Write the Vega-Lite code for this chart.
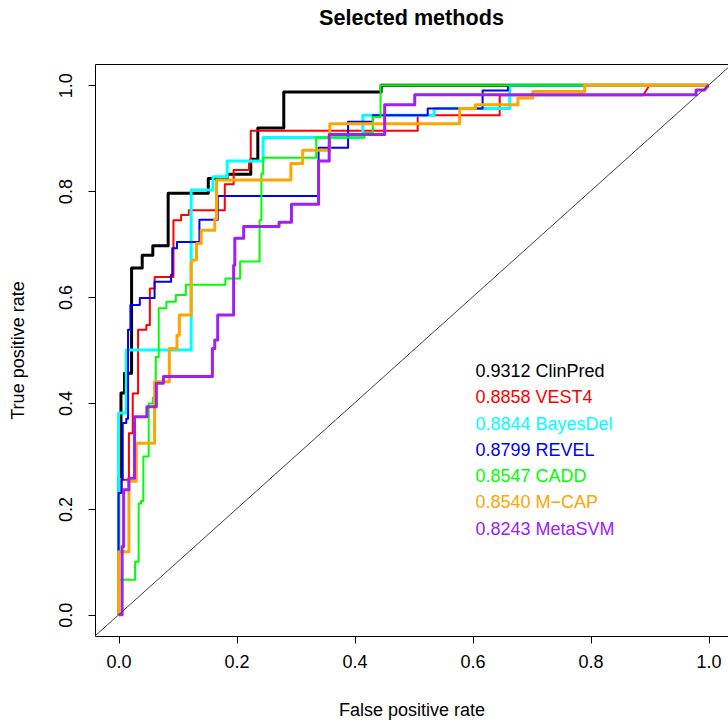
{
  "$schema": "https://vega.github.io/schema/vega-lite/v6.json",
  "width": 633,
  "height": 572,
  "autosize": {"type": "none"},
  "padding": {"left": 95, "top": 64, "right": 0, "bottom": 86},
  "background": "white",
  "title": {"text": "Selected methods", "fontSize": 21.6, "fontWeight": "bold", "font": "Liberation Sans", "color": "black", "anchor": "middle", "offset": 34},
  "config": {
    "view": {"stroke": null},
    "font": "Liberation Sans",
    "axis": {"grid": false, "domainColor": "black", "tickColor": "black", "labelColor": "black", "titleColor": "black", "labelFont": "Liberation Sans", "titleFont": "Liberation Sans", "labelFontSize": 18, "titleFontSize": 18, "titleFontWeight": "normal", "tickSize": 7, "domainWidth": 1, "tickWidth": 1}
  },
  "datasets": {
    "curves": [
      {"m":"ClinPred","i":0,"fpr":0,"tpr":0},{"m":"ClinPred","i":1,"fpr":0,"tpr":0.26},{"m":"ClinPred","i":2,"fpr":0.004,"tpr":0.26},{"m":"ClinPred","i":3,"fpr":0.004,"tpr":0.419},{"m":"ClinPred","i":4,"fpr":0.01,"tpr":0.419},{"m":"ClinPred","i":5,"fpr":0.01,"tpr":0.456},{"m":"ClinPred","i":6,"fpr":0.022,"tpr":0.456},{"m":"ClinPred","i":7,"fpr":0.022,"tpr":0.655},{"m":"ClinPred","i":8,"fpr":0.04,"tpr":0.655},{"m":"ClinPred","i":9,"fpr":0.04,"tpr":0.679},{"m":"ClinPred","i":10,"fpr":0.058,"tpr":0.679},{"m":"ClinPred","i":11,"fpr":0.058,"tpr":0.697},{"m":"ClinPred","i":12,"fpr":0.084,"tpr":0.697},{"m":"ClinPred","i":13,"fpr":0.084,"tpr":0.796},{"m":"ClinPred","i":14,"fpr":0.152,"tpr":0.796},{"m":"ClinPred","i":15,"fpr":0.152,"tpr":0.824},{"m":"ClinPred","i":16,"fpr":0.184,"tpr":0.824},{"m":"ClinPred","i":17,"fpr":0.184,"tpr":0.832},{"m":"ClinPred","i":18,"fpr":0.224,"tpr":0.832},{"m":"ClinPred","i":19,"fpr":0.224,"tpr":0.86},{"m":"ClinPred","i":20,"fpr":0.236,"tpr":0.86},{"m":"ClinPred","i":21,"fpr":0.236,"tpr":0.919},{"m":"ClinPred","i":22,"fpr":0.28,"tpr":0.919},{"m":"ClinPred","i":23,"fpr":0.28,"tpr":0.987},{"m":"ClinPred","i":24,"fpr":0.445,"tpr":0.987},{"m":"ClinPred","i":25,"fpr":0.445,"tpr":1},{"m":"ClinPred","i":26,"fpr":1,"tpr":1},

      {"m":"VEST4","i":0,"fpr":0,"tpr":0},{"m":"VEST4","i":1,"fpr":0,"tpr":0.23},{"m":"VEST4","i":2,"fpr":0.005,"tpr":0.23},{"m":"VEST4","i":3,"fpr":0.005,"tpr":0.255},{"m":"VEST4","i":4,"fpr":0.0175,"tpr":0.255},{"m":"VEST4","i":5,"fpr":0.0175,"tpr":0.343},{"m":"VEST4","i":6,"fpr":0.024,"tpr":0.343},{"m":"VEST4","i":7,"fpr":0.024,"tpr":0.418},{"m":"VEST4","i":8,"fpr":0.033,"tpr":0.418},{"m":"VEST4","i":9,"fpr":0.033,"tpr":0.538},{"m":"VEST4","i":10,"fpr":0.047,"tpr":0.538},{"m":"VEST4","i":11,"fpr":0.047,"tpr":0.547},{"m":"VEST4","i":12,"fpr":0.053,"tpr":0.547},{"m":"VEST4","i":13,"fpr":0.053,"tpr":0.616},{"m":"VEST4","i":14,"fpr":0.061,"tpr":0.616},{"m":"VEST4","i":15,"fpr":0.061,"tpr":0.638},{"m":"VEST4","i":16,"fpr":0.093,"tpr":0.638},{"m":"VEST4","i":17,"fpr":0.093,"tpr":0.745},{"m":"VEST4","i":18,"fpr":0.106,"tpr":0.745},{"m":"VEST4","i":19,"fpr":0.106,"tpr":0.755},{"m":"VEST4","i":20,"fpr":0.119,"tpr":0.755},{"m":"VEST4","i":21,"fpr":0.119,"tpr":0.764},{"m":"VEST4","i":22,"fpr":0.18,"tpr":0.764},{"m":"VEST4","i":23,"fpr":0.18,"tpr":0.813},{"m":"VEST4","i":24,"fpr":0.195,"tpr":0.813},{"m":"VEST4","i":25,"fpr":0.195,"tpr":0.84},{"m":"VEST4","i":26,"fpr":0.221,"tpr":0.84},{"m":"VEST4","i":27,"fpr":0.221,"tpr":0.852},{"m":"VEST4","i":28,"fpr":0.224,"tpr":0.852},{"m":"VEST4","i":29,"fpr":0.224,"tpr":0.914},{"m":"VEST4","i":30,"fpr":0.507,"tpr":0.914},{"m":"VEST4","i":31,"fpr":0.507,"tpr":0.943},{"m":"VEST4","i":32,"fpr":0.646,"tpr":0.943},{"m":"VEST4","i":33,"fpr":0.646,"tpr":0.981},{"m":"VEST4","i":34,"fpr":0.889,"tpr":0.981},{"m":"VEST4","i":35,"fpr":0.9,"tpr":1},{"m":"VEST4","i":36,"fpr":1,"tpr":1},

      {"m":"BayesDel","i":0,"fpr":0,"tpr":0},{"m":"BayesDel","i":1,"fpr":0,"tpr":0.381},{"m":"BayesDel","i":2,"fpr":0.013,"tpr":0.381},{"m":"BayesDel","i":3,"fpr":0.013,"tpr":0.5},{"m":"BayesDel","i":4,"fpr":0.123,"tpr":0.5},{"m":"BayesDel","i":5,"fpr":0.123,"tpr":0.802},{"m":"BayesDel","i":6,"fpr":0.16,"tpr":0.802},{"m":"BayesDel","i":7,"fpr":0.16,"tpr":0.827},{"m":"BayesDel","i":8,"fpr":0.184,"tpr":0.827},{"m":"BayesDel","i":9,"fpr":0.184,"tpr":0.857},{"m":"BayesDel","i":10,"fpr":0.245,"tpr":0.857},{"m":"BayesDel","i":11,"fpr":0.245,"tpr":0.901},{"m":"BayesDel","i":12,"fpr":0.414,"tpr":0.901},{"m":"BayesDel","i":13,"fpr":0.414,"tpr":0.943},{"m":"BayesDel","i":14,"fpr":0.535,"tpr":0.943},{"m":"BayesDel","i":15,"fpr":0.535,"tpr":0.956},{"m":"BayesDel","i":16,"fpr":0.663,"tpr":0.956},{"m":"BayesDel","i":17,"fpr":0.663,"tpr":1},{"m":"BayesDel","i":18,"fpr":1,"tpr":1},

      {"m":"REVEL","i":0,"fpr":0,"tpr":0},{"m":"REVEL","i":1,"fpr":0,"tpr":0.23},{"m":"REVEL","i":2,"fpr":0.005,"tpr":0.23},{"m":"REVEL","i":3,"fpr":0.005,"tpr":0.255},{"m":"REVEL","i":4,"fpr":0.007,"tpr":0.255},{"m":"REVEL","i":5,"fpr":0.007,"tpr":0.362},{"m":"REVEL","i":6,"fpr":0.013,"tpr":0.362},{"m":"REVEL","i":7,"fpr":0.013,"tpr":0.37},{"m":"REVEL","i":8,"fpr":0.016,"tpr":0.37},{"m":"REVEL","i":9,"fpr":0.016,"tpr":0.538},{"m":"REVEL","i":10,"fpr":0.02,"tpr":0.538},{"m":"REVEL","i":11,"fpr":0.02,"tpr":0.585},{"m":"REVEL","i":12,"fpr":0.036,"tpr":0.585},{"m":"REVEL","i":13,"fpr":0.036,"tpr":0.598},{"m":"REVEL","i":14,"fpr":0.061,"tpr":0.598},{"m":"REVEL","i":15,"fpr":0.061,"tpr":0.629},{"m":"REVEL","i":16,"fpr":0.089,"tpr":0.629},{"m":"REVEL","i":17,"fpr":0.089,"tpr":0.642},{"m":"REVEL","i":18,"fpr":0.091,"tpr":0.642},{"m":"REVEL","i":19,"fpr":0.091,"tpr":0.692},{"m":"REVEL","i":20,"fpr":0.099,"tpr":0.692},{"m":"REVEL","i":21,"fpr":0.099,"tpr":0.704},{"m":"REVEL","i":22,"fpr":0.137,"tpr":0.704},{"m":"REVEL","i":23,"fpr":0.137,"tpr":0.746},{"m":"REVEL","i":24,"fpr":0.168,"tpr":0.746},{"m":"REVEL","i":25,"fpr":0.168,"tpr":0.791},{"m":"REVEL","i":26,"fpr":0.339,"tpr":0.791},{"m":"REVEL","i":27,"fpr":0.339,"tpr":0.882},{"m":"REVEL","i":28,"fpr":0.389,"tpr":0.882},{"m":"REVEL","i":29,"fpr":0.389,"tpr":0.931},{"m":"REVEL","i":30,"fpr":0.431,"tpr":0.931},{"m":"REVEL","i":31,"fpr":0.431,"tpr":0.943},{"m":"REVEL","i":32,"fpr":0.524,"tpr":0.943},{"m":"REVEL","i":33,"fpr":0.524,"tpr":0.956},{"m":"REVEL","i":34,"fpr":0.617,"tpr":0.956},{"m":"REVEL","i":35,"fpr":0.617,"tpr":0.99},{"m":"REVEL","i":36,"fpr":0.66,"tpr":0.99},{"m":"REVEL","i":37,"fpr":0.66,"tpr":1},{"m":"REVEL","i":38,"fpr":1,"tpr":1},

      {"m":"CADD","i":0,"fpr":0,"tpr":0},{"m":"CADD","i":1,"fpr":0,"tpr":0.066},{"m":"CADD","i":2,"fpr":0.028,"tpr":0.066},{"m":"CADD","i":3,"fpr":0.028,"tpr":0.1},{"m":"CADD","i":4,"fpr":0.034,"tpr":0.1},{"m":"CADD","i":5,"fpr":0.034,"tpr":0.21},{"m":"CADD","i":6,"fpr":0.038,"tpr":0.21},{"m":"CADD","i":7,"fpr":0.038,"tpr":0.215},{"m":"CADD","i":8,"fpr":0.042,"tpr":0.215},{"m":"CADD","i":9,"fpr":0.042,"tpr":0.299},{"m":"CADD","i":10,"fpr":0.051,"tpr":0.299},{"m":"CADD","i":11,"fpr":0.051,"tpr":0.399},{"m":"CADD","i":12,"fpr":0.058,"tpr":0.399},{"m":"CADD","i":13,"fpr":0.058,"tpr":0.41},{"m":"CADD","i":14,"fpr":0.063,"tpr":0.41},{"m":"CADD","i":15,"fpr":0.063,"tpr":0.487},{"m":"CADD","i":16,"fpr":0.068,"tpr":0.487},{"m":"CADD","i":17,"fpr":0.068,"tpr":0.579},{"m":"CADD","i":18,"fpr":0.081,"tpr":0.579},{"m":"CADD","i":19,"fpr":0.081,"tpr":0.591},{"m":"CADD","i":20,"fpr":0.097,"tpr":0.591},{"m":"CADD","i":21,"fpr":0.097,"tpr":0.604},{"m":"CADD","i":22,"fpr":0.114,"tpr":0.604},{"m":"CADD","i":23,"fpr":0.114,"tpr":0.623},{"m":"CADD","i":24,"fpr":0.181,"tpr":0.623},{"m":"CADD","i":25,"fpr":0.181,"tpr":0.635},{"m":"CADD","i":26,"fpr":0.206,"tpr":0.635},{"m":"CADD","i":27,"fpr":0.206,"tpr":0.667},{"m":"CADD","i":28,"fpr":0.239,"tpr":0.667},{"m":"CADD","i":29,"fpr":0.239,"tpr":0.745},{"m":"CADD","i":30,"fpr":0.242,"tpr":0.745},{"m":"CADD","i":31,"fpr":0.242,"tpr":0.833},{"m":"CADD","i":32,"fpr":0.245,"tpr":0.833},{"m":"CADD","i":33,"fpr":0.245,"tpr":0.863},{"m":"CADD","i":34,"fpr":0.335,"tpr":0.863},{"m":"CADD","i":35,"fpr":0.335,"tpr":0.901},{"m":"CADD","i":36,"fpr":0.417,"tpr":0.901},{"m":"CADD","i":37,"fpr":0.417,"tpr":0.91},{"m":"CADD","i":38,"fpr":0.431,"tpr":0.91},{"m":"CADD","i":39,"fpr":0.431,"tpr":0.94},{"m":"CADD","i":40,"fpr":0.444,"tpr":0.94},{"m":"CADD","i":41,"fpr":0.444,"tpr":1},{"m":"CADD","i":42,"fpr":1,"tpr":1},

      {"m":"M−CAP","i":0,"fpr":0,"tpr":0},{"m":"M−CAP","i":1,"fpr":0,"tpr":0.119},{"m":"M−CAP","i":2,"fpr":0.0175,"tpr":0.119},{"m":"M−CAP","i":3,"fpr":0.0175,"tpr":0.252},{"m":"M−CAP","i":4,"fpr":0.03,"tpr":0.252},{"m":"M−CAP","i":5,"fpr":0.03,"tpr":0.324},{"m":"M−CAP","i":6,"fpr":0.061,"tpr":0.324},{"m":"M−CAP","i":7,"fpr":0.061,"tpr":0.44},{"m":"M−CAP","i":8,"fpr":0.086,"tpr":0.44},{"m":"M−CAP","i":9,"fpr":0.086,"tpr":0.503},{"m":"M−CAP","i":10,"fpr":0.099,"tpr":0.503},{"m":"M−CAP","i":11,"fpr":0.099,"tpr":0.528},{"m":"M−CAP","i":12,"fpr":0.103,"tpr":0.528},{"m":"M−CAP","i":13,"fpr":0.103,"tpr":0.566},{"m":"M−CAP","i":14,"fpr":0.123,"tpr":0.566},{"m":"M−CAP","i":15,"fpr":0.123,"tpr":0.664},{"m":"M−CAP","i":16,"fpr":0.126,"tpr":0.67},{"m":"M−CAP","i":17,"fpr":0.132,"tpr":0.67},{"m":"M−CAP","i":18,"fpr":0.132,"tpr":0.701},{"m":"M−CAP","i":19,"fpr":0.14,"tpr":0.701},{"m":"M−CAP","i":20,"fpr":0.14,"tpr":0.726},{"m":"M−CAP","i":21,"fpr":0.163,"tpr":0.726},{"m":"M−CAP","i":22,"fpr":0.163,"tpr":0.748},{"m":"M−CAP","i":23,"fpr":0.166,"tpr":0.748},{"m":"M−CAP","i":24,"fpr":0.166,"tpr":0.821},{"m":"M−CAP","i":25,"fpr":0.292,"tpr":0.821},{"m":"M−CAP","i":26,"fpr":0.292,"tpr":0.852},{"m":"M−CAP","i":27,"fpr":0.312,"tpr":0.852},{"m":"M−CAP","i":28,"fpr":0.312,"tpr":0.877},{"m":"M−CAP","i":29,"fpr":0.358,"tpr":0.877},{"m":"M−CAP","i":30,"fpr":0.358,"tpr":0.927},{"m":"M−CAP","i":31,"fpr":0.578,"tpr":0.927},{"m":"M−CAP","i":32,"fpr":0.578,"tpr":0.956},{"m":"M−CAP","i":33,"fpr":0.605,"tpr":0.956},{"m":"M−CAP","i":34,"fpr":0.605,"tpr":0.963},{"m":"M−CAP","i":35,"fpr":0.677,"tpr":0.963},{"m":"M−CAP","i":36,"fpr":0.677,"tpr":0.976},{"m":"M−CAP","i":37,"fpr":0.702,"tpr":0.976},{"m":"M−CAP","i":38,"fpr":0.702,"tpr":0.988},{"m":"M−CAP","i":39,"fpr":0.79,"tpr":0.988},{"m":"M−CAP","i":40,"fpr":0.79,"tpr":1},{"m":"M−CAP","i":41,"fpr":1,"tpr":1},

      {"m":"MetaSVM","i":0,"fpr":0,"tpr":0},{"m":"MetaSVM","i":1,"fpr":0.006,"tpr":0},{"m":"MetaSVM","i":2,"fpr":0.006,"tpr":0.129},{"m":"MetaSVM","i":3,"fpr":0.0085,"tpr":0.129},{"m":"MetaSVM","i":4,"fpr":0.0085,"tpr":0.236},{"m":"MetaSVM","i":5,"fpr":0.0175,"tpr":0.236},{"m":"MetaSVM","i":6,"fpr":0.0175,"tpr":0.258},{"m":"MetaSVM","i":7,"fpr":0.027,"tpr":0.258},{"m":"MetaSVM","i":8,"fpr":0.027,"tpr":0.374},{"m":"MetaSVM","i":9,"fpr":0.048,"tpr":0.374},{"m":"MetaSVM","i":10,"fpr":0.048,"tpr":0.393},{"m":"MetaSVM","i":11,"fpr":0.064,"tpr":0.393},{"m":"MetaSVM","i":12,"fpr":0.064,"tpr":0.437},{"m":"MetaSVM","i":13,"fpr":0.076,"tpr":0.437},{"m":"MetaSVM","i":14,"fpr":0.076,"tpr":0.45},{"m":"MetaSVM","i":15,"fpr":0.159,"tpr":0.45},{"m":"MetaSVM","i":16,"fpr":0.159,"tpr":0.503},{"m":"MetaSVM","i":17,"fpr":0.163,"tpr":0.503},{"m":"MetaSVM","i":18,"fpr":0.163,"tpr":0.519},{"m":"MetaSVM","i":19,"fpr":0.168,"tpr":0.519},{"m":"MetaSVM","i":20,"fpr":0.168,"tpr":0.566},{"m":"MetaSVM","i":21,"fpr":0.195,"tpr":0.566},{"m":"MetaSVM","i":22,"fpr":0.195,"tpr":0.66},{"m":"MetaSVM","i":23,"fpr":0.197,"tpr":0.66},{"m":"MetaSVM","i":24,"fpr":0.197,"tpr":0.711},{"m":"MetaSVM","i":25,"fpr":0.212,"tpr":0.711},{"m":"MetaSVM","i":26,"fpr":0.212,"tpr":0.733},{"m":"MetaSVM","i":27,"fpr":0.272,"tpr":0.733},{"m":"MetaSVM","i":28,"fpr":0.272,"tpr":0.741},{"m":"MetaSVM","i":29,"fpr":0.293,"tpr":0.741},{"m":"MetaSVM","i":30,"fpr":0.293,"tpr":0.775},{"m":"MetaSVM","i":31,"fpr":0.339,"tpr":0.775},{"m":"MetaSVM","i":32,"fpr":0.339,"tpr":0.857},{"m":"MetaSVM","i":33,"fpr":0.357,"tpr":0.857},{"m":"MetaSVM","i":34,"fpr":0.357,"tpr":0.907},{"m":"MetaSVM","i":35,"fpr":0.451,"tpr":0.907},{"m":"MetaSVM","i":36,"fpr":0.451,"tpr":0.963},{"m":"MetaSVM","i":37,"fpr":0.502,"tpr":0.963},{"m":"MetaSVM","i":38,"fpr":0.502,"tpr":0.982},{"m":"MetaSVM","i":39,"fpr":0.979,"tpr":0.982},{"m":"MetaSVM","i":40,"fpr":0.979,"tpr":0.991},{"m":"MetaSVM","i":41,"fpr":0.993,"tpr":0.991},{"m":"MetaSVM","i":42,"fpr":1,"tpr":1}
    ],
    "diag": [{"fpr": -0.04, "tpr": -0.04}, {"fpr": 1.04, "tpr": 1.04}],
    "labels": [
      {"m":"ClinPred","label":"0.9312 ClinPred","lx":0.605,"ly":0.459},
      {"m":"VEST4","label":"0.8858 VEST4","lx":0.605,"ly":0.409},
      {"m":"BayesDel","label":"0.8844 BayesDel","lx":0.605,"ly":0.358},
      {"m":"REVEL","label":"0.8799 REVEL","lx":0.605,"ly":0.310},
      {"m":"CADD","label":"0.8547 CADD","lx":0.605,"ly":0.260},
      {"m":"M−CAP","label":"0.8540 M−CAP","lx":0.605,"ly":0.211},
      {"m":"MetaSVM","label":"0.8243 MetaSVM","lx":0.605,"ly":0.160}
    ]
  },
  "layer": [
    {
      "data": {"name": "curves"},
      "mark": {"type": "line", "clip": true, "strokeJoin": "round", "strokeCap": "butt"},
      "encoding": {
        "x": {"field": "fpr", "type": "quantitative", "scale": {"domain": [-0.04, 1.033], "nice": false, "zero": false},
              "axis": {"orient": "bottom", "values": [0, 0.2, 0.4, 0.6, 0.8, 1.0], "format": ".1f", "title": "False positive rate", "labelPadding": 10, "titlePadding": 30}},
        "y": {"field": "tpr", "type": "quantitative", "scale": {"domain": [-0.04, 1.04], "nice": false, "zero": false},
              "axis": {"orient": "left", "values": [0, 0.2, 0.4, 0.6, 0.8, 1.0], "format": ".1f", "labelAngle": -90, "labelPadding": 13, "title": "True positive rate", "titlePadding": 30}},
        "color": {"field": "m", "type": "nominal", "legend": null,
                  "scale": {"domain": ["ClinPred", "VEST4", "BayesDel", "REVEL", "CADD", "M−CAP", "MetaSVM"], "range": ["#000000", "#FF0000", "#00FFFF", "#0000FF", "#00FF00", "#FFA500", "#A020F0"]}},
        "strokeWidth": {"field": "m", "type": "nominal", "legend": null,
                  "scale": {"type": "ordinal", "domain": ["ClinPred", "VEST4", "BayesDel", "REVEL", "CADD", "M−CAP", "MetaSVM"], "range": [3, 2, 3, 2, 2, 3, 3]}},
        "order": {"field": "i", "type": "quantitative"}
      }
    },
    {
      "data": {"name": "diag"},
      "mark": {"type": "line", "clip": true, "color": "#404040", "strokeWidth": 1},
      "encoding": {
        "x": {"field": "fpr", "type": "quantitative", "axis": {"orient": "top", "labels": false, "ticks": false, "title": null, "domain": true}},
        "y": {"field": "tpr", "type": "quantitative"}
      }
    },
    {
      "data": {"name": "labels"},
      "mark": {"type": "text", "align": "left", "baseline": "middle", "fontSize": 18, "font": "Liberation Sans"},
      "encoding": {
        "x": {"field": "lx", "type": "quantitative", "axis": null},
        "y": {"field": "ly", "type": "quantitative"},
        "text": {"field": "label", "type": "nominal"},
        "color": {"field": "m", "type": "nominal", "legend": null}
      }
    }
  ],
  "resolve": {"axis": {"x": "independent"}}
}
